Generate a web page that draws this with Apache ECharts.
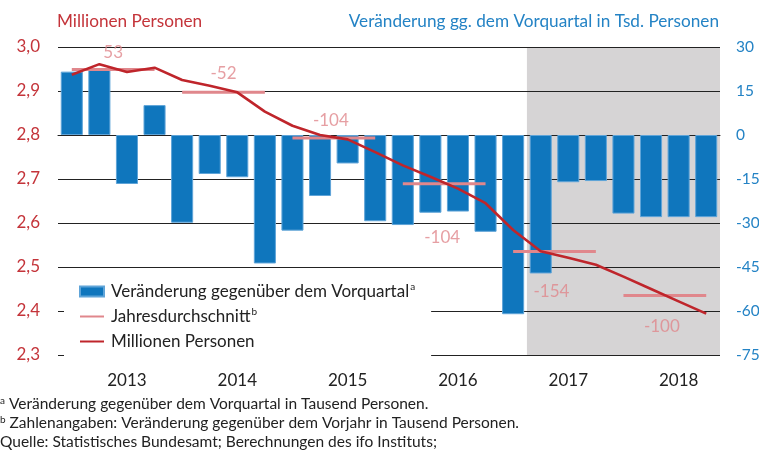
<!DOCTYPE html>
<html>
<head>
<meta charset="utf-8">
<script src="https://cdn.jsdelivr.net/npm/echarts@6/dist/echarts.min.js"></script>
<style>
  html, body { margin: 0; padding: 0; background: #ffffff; }
  #chart { width: 759px; height: 453px; }
</style>
</head>
<body>
<div id="chart"></div>
<script>
// Erwerbstätige: Quartalsveränderung (Tsd.) und Niveau (Mio.), 2013–2018
const years = ['2013', '2014', '2015', '2016', '2017', '2018'];
const quarters = ['Q1', 'Q2', 'Q3', 'Q4'];

// Veränderung gegenüber dem Vorquartal, Tsd. Personen
const changeVsPrevQuarter = [
  21.6, 22.4, -16.7, 10.2,
  -29.9, -13.3, -14.4, -43.8,
  -32.6, -20.8, -9.7, -29.4,
  -30.7, -26.5, -26.1, -33.0,
  -61.1, -47.2, -16.1, -15.7,
  -26.8, -28.0, -28.0, -28.0
];

// Niveau, Millionen Personen
const personsMillions = [
  2.937, 2.961, 2.943, 2.953,
  2.925, 2.912, 2.897, 2.853,
  2.821, 2.800, 2.790, 2.761,
  2.731, 2.705, 2.678, 2.645,
  2.584, 2.536, 2.521, 2.505,
  2.478, 2.450, 2.422, 2.394
];

// Jahresdurchschnitt, Millionen Personen
const annualAverage = [2.949, 2.897, 2.793, 2.689, 2.535, 2.435];

// Veränderung gegenüber dem Vorjahr, Tsd. Personen
const annualChangeLabels = ['53', '-52', '-104', '-104', '-154', '-100'];

// Prognosezeitraum (grau hinterlegt)
const forecastFrom = '2017 Q2';
const forecastTo = '2018 Q4';

const categories = years.flatMap(y => quarters.map(q => y + ' ' + q));

const FONT = 'Lato';
const RED = '#c4343a';
const BLUE = '#2483c5';
const BAR = '#0f76bd';
const PINK = '#e0878c';
const LINE_RED = '#bf252b';
const TEXT = '#222222';
const FS = 17;

// Lage der Zahlenangaben relativ zur Mitte des Jahresbalkens
const labelPlacement = [
  { position: 'top', offset: [0, -3] },
  { position: 'top', offset: [0, -5] },
  { position: 'top', offset: [-3, -4] },
  { position: 'bottom', offset: [-2, 40] },
  { position: 'bottom', offset: [-3, 26] },
  { position: 'bottom', offset: [-3, 17] }
];

// Segmente für die Jahresdurchschnitte: vom ersten bis zum letzten Quartal jedes Jahres
const avgSegments = [];
annualAverage.forEach((v, i) => {
  avgSegments.push([i * 4, v]);
  avgSegments.push([i * 4 + 3, v]);
  avgSegments.push([i * 4 + 3, '-']);
});

const avgLabels = annualAverage.map((v, i) => ({
  value: [i * 4 + 1.5, v],
  label: {
    show: true,
    formatter: annualChangeLabels[i],
    position: labelPlacement[i].position,
    offset: labelPlacement[i].offset
  }
}));

// Grenzen des Prognosebereichs auf der Quartalsachse (Bandkanten)
const shadeStart = categories.indexOf(forecastFrom) - 0.5;
const shadeEnd = categories.indexOf(forecastTo) + 0.5;

const SERIES_BAR = 'Veränderung gegenüber dem Vorquartal';
const SERIES_AVG = 'Jahresdurchschnitt';
const SERIES_LINE = 'Millionen Personen';
const superscripts = {};
superscripts[SERIES_BAR] = 'a';
superscripts[SERIES_AVG] = 'b';

const chart = echarts.init(document.getElementById('chart'), null, { renderer: 'canvas' });

chart.setOption({
  animation: false,
  textStyle: { fontFamily: FONT },
  title: [
    {
      text: 'Millionen Personen',
      left: 57, top: 13, padding: 0,
      textStyle: { color: RED, fontSize: 17.2, fontWeight: 'normal', fontFamily: FONT }
    },
    {
      text: 'Veränderung gg. dem Vorquartal in Tsd. Personen',
      right: 40, top: 13, padding: 0,
      textStyle: { color: BLUE, fontSize: 17.2, fontWeight: 'normal', fontFamily: FONT }
    }
  ],
  grid: { left: 58, right: 39, top: 47, bottom: 98, containLabel: false, outerBoundsMode: 'none' },
  legend: {
    data: [
      { name: SERIES_BAR, icon: 'rect' },
      { name: SERIES_AVG, itemStyle: { opacity: 0 } },
      { name: SERIES_LINE, itemStyle: { opacity: 0 } }
    ],
    orient: 'vertical',
    left: 64, top: 273,
    padding: [9, 16, 8, 15],
    backgroundColor: '#ffffff',
    itemWidth: 24, itemHeight: 10, itemGap: 6,
    selectedMode: false,
    formatter: name => superscripts[name] ? name + '{sup|' + superscripts[name] + '}' : name,
    textStyle: {
      color: TEXT, fontSize: FS, fontFamily: FONT, lineHeight: 19, padding: [0, 0, 0, 2],
      rich: { sup: { fontSize: 10, fontFamily: FONT, color: TEXT, verticalAlign: 'top', lineHeight: 19, padding: [0, 0, 6, 1] } }
    }
  },
  xAxis: [
    {
      type: 'category',
      data: categories,
      boundaryGap: true,
      axisLine: { lineStyle: { color: TEXT, width: 1 } },
      axisTick: { interval: 3, length: 5, lineStyle: { color: TEXT } },
      axisLabel: {
        interval: i => i % 4 === 2,
        formatter: v => v.slice(0, 4),
        color: TEXT, fontSize: FS, fontFamily: FONT, margin: 17
      },
      splitLine: { show: false }
    },
    {
      type: 'value',
      min: -0.5, max: 23.5,
      show: false
    }
  ],
  yAxis: [
    {
      type: 'value',
      position: 'left',
      min: 2.3, max: 3.0, interval: 0.1,
      axisLine: { show: false },
      axisTick: { show: false },
      axisLabel: {
        color: RED, fontSize: FS, fontFamily: FONT, margin: 18,
        formatter: v => v.toFixed(1).replace('.', ',')
      },
      splitLine: { lineStyle: { color: TEXT, width: 1 } }
    },
    {
      type: 'value',
      position: 'right',
      min: -75, max: 30, interval: 15,
      axisLine: { show: false },
      axisTick: { show: false },
      axisLabel: { color: BLUE, fontSize: 15.5, fontFamily: FONT, margin: 16 },
      splitLine: { show: false }
    }
  ],
  series: [
    {
      name: SERIES_BAR,
      type: 'bar',
      xAxisIndex: 0, yAxisIndex: 1,
      data: changeVsPrevQuarter,
      barCategoryGap: '20%',
      itemStyle: { color: BAR, borderColor: '#5fa4d8', borderWidth: 1 },
      z: 2
    },
    {
      name: SERIES_AVG,
      type: 'line',
      xAxisIndex: 1, yAxisIndex: 0,
      data: avgSegments,
      symbol: 'none',
      connectNulls: false,
      lineStyle: { color: PINK, width: 3 },
      itemStyle: { color: PINK },
      markArea: {
        silent: true,
        z: -1,
        itemStyle: { color: '#d6d4d5' },
        data: [[{ xAxis: shadeStart }, { xAxis: shadeEnd }]]
      },
      z: 3
    },
    {
      name: 'labels',
      type: 'scatter',
      xAxisIndex: 1, yAxisIndex: 0,
      data: avgLabels,
      symbolSize: 0,
      silent: true,
      label: { color: PINK, fontSize: FS, fontFamily: FONT },
      z: 5
    },
    {
      name: SERIES_LINE,
      type: 'line',
      xAxisIndex: 0, yAxisIndex: 0,
      data: personsMillions,
      symbol: 'none',
      lineStyle: { color: LINE_RED, width: 2.6 },
      itemStyle: { color: LINE_RED },
      z: 4
    }
  ],
  graphic: [
    {
      type: 'text', left: 0, top: 396,
      style: {
        text: '{s|a} Veränderung gegenüber dem Vorquartal in Tausend Personen.',
        fill: TEXT, fontSize: 15.5, fontFamily: FONT,
        rich: { s: { fontSize: 10, fontFamily: FONT, fill: TEXT, verticalAlign: 'top', padding: [0, 0, 5, 0] } }
      }
    },
    {
      type: 'text', left: 0, top: 415,
      style: {
        text: '{s|b} Zahlenangaben: Veränderung gegenüber dem Vorjahr in Tausend Personen.',
        fill: TEXT, fontSize: 15.5, fontFamily: FONT,
        rich: { s: { fontSize: 10, fontFamily: FONT, fill: TEXT, verticalAlign: 'top', padding: [0, 0, 5, 0] } }
      }
    },
    {
      type: 'text', left: 0, top: 434,
      style: {
        text: 'Quelle: Statistisches Bundesamt; Berechnungen des ifo Instituts;',
        fill: TEXT, fontSize: 15.5, fontFamily: FONT
      }
    }
  ]
});
</script>
</body>
</html>
